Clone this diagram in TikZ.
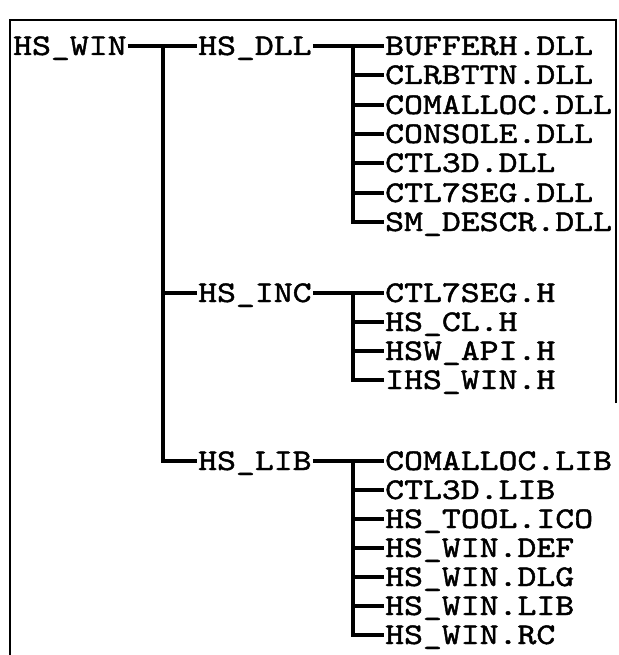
\documentclass[tikz,border=0pt]{standalone}
\usepackage{fontspec}
\newfontfamily\treefont[FakeStretch=1.2,FakeBold=1.5]{lmmono10-regular.otf}
\usetikzlibrary{calc}

\tikzset{
  entry/.style={anchor=west, inner xsep=1pt, inner ysep=0pt,
    text height=18pt, text depth=0pt,
    font=\treefont\fontsize{30}{30}\selectfont},
  branch/.style={line width=3.2pt},
  frameline/.style={line width=2.4pt}
}

\begin{document}
\begin{tikzpicture}[x=1pt,y=-1pt]
\useasboundingbox (0,0) rectangle (618,655);

% Frame
\draw[frameline] (616,403) -- (616,20) -- (10,20) -- (10,655);

% Root and subfolders
\node[entry] (win) at (12,46) {HS\_WIN};
\node[entry] (dll) at (197,46) {HS\_DLL};
\node[entry] (inc) at (197,293) {HS\_INC};
\node[entry] (lib) at (197,461) {HS\_LIB};

% Files in HS_DLL
\node[entry] (d1) at (384,46) {BUFFERH.DLL};
\node[entry] (d2) at (384,75) {CLRBTTN.DLL};
\node[entry] (d3) at (384,105) {COMALLOC.DLL};
\node[entry] (d4) at (384,134) {CONSOLE.DLL};
\node[entry] (d5) at (384,163) {CTL3D.DLL};
\node[entry] (d6) at (384,193) {CTL7SEG.DLL};
\node[entry] (d7) at (384,222) {SM\_DESCR.DLL};

% Files in HS_INC
\node[entry] (h1) at (384,293) {CTL7SEG.H};
\node[entry] (h2) at (384,322) {HS\_CL.H};
\node[entry] (h3) at (384,351) {HSW\_API.H};
\node[entry] (h4) at (384,380) {IHS\_WIN.H};

% Files in HS_LIB
\node[entry] (l1) at (384,461) {COMALLOC.LIB};
\node[entry] (l2) at (384,490) {CTL3D.LIB};
\node[entry] (l3) at (384,519) {HS\_TOOL.ICO};
\node[entry] (l4) at (384,548) {HS\_WIN.DEF};
\node[entry] (l5) at (384,577) {HS\_WIN.DLG};
\node[entry] (l6) at (384,606) {HS\_WIN.LIB};
\node[entry] (l7) at (384,635) {HS\_WIN.RC};

% Junctions
\coordinate (jw) at (163,46);
\coordinate (jd) at (353,46);
\coordinate (ji) at (353,293);
\coordinate (jl) at (353,461);

% Root branches
\draw[branch] (win) -- (dll);
\draw[branch] (jw) |- (lib);
\draw[branch] (jw |- inc.west) -- (inc);

% HS_DLL branches
\draw[branch] (dll) -- (d1);
\draw[branch] (jd) |- (d7);
\foreach \i in {2,...,6}
  \draw[branch] (jd |- d\i.west) -- (d\i);

% HS_INC branches
\draw[branch] (inc) -- (h1);
\draw[branch] (ji) |- (h4);
\foreach \i in {2,3}
  \draw[branch] (ji |- h\i.west) -- (h\i);

% HS_LIB branches
\draw[branch] (lib) -- (l1);
\draw[branch] (jl) |- (l7);
\foreach \i in {2,...,6}
  \draw[branch] (jl |- l\i.west) -- (l\i);
\end{tikzpicture}
\end{document}
